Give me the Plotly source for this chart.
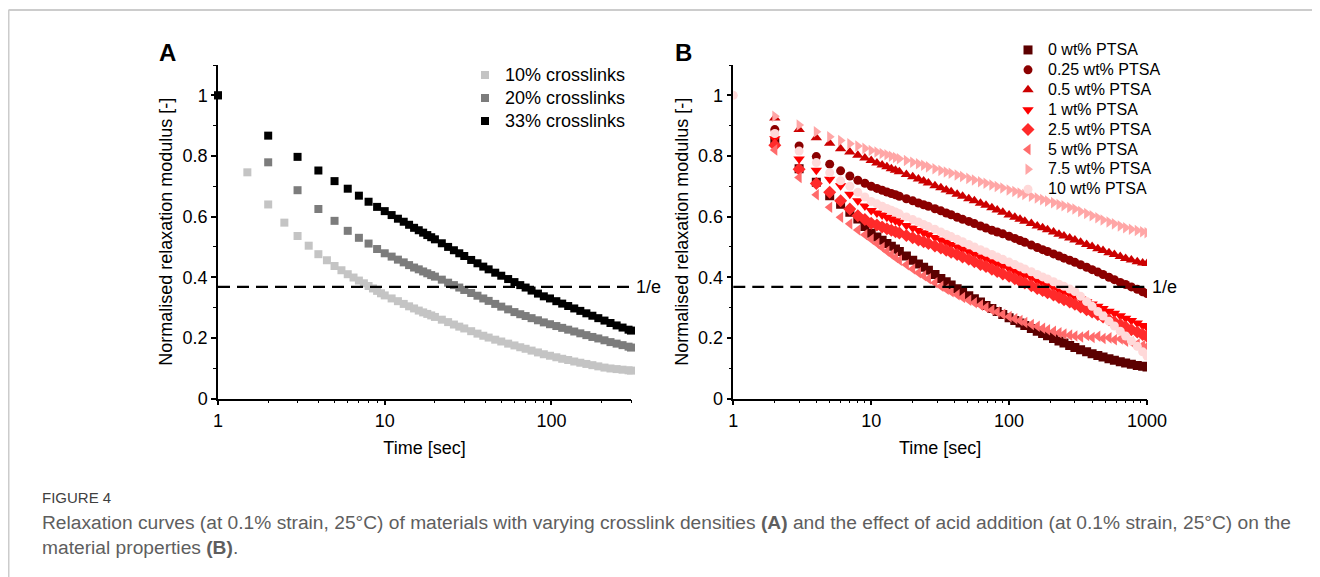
import math
import plotly.graph_objects as go

# ---------------- Panel A data ----------------
tA = [1, 2, 3, 4, 5, 6, 7, 8, 9, 10, 11, 12, 13, 14, 15, 16, 17, 18, 19, 20,
      22, 24, 26, 28, 30, 33, 36, 39, 42, 46, 50, 55, 60, 65, 70, 76, 83, 90, 98,
      107, 116, 126, 137, 149, 162, 176, 191, 208, 226, 246, 267, 290, 300]
tA10 = [1, 1.5, 2, 2.5, 3, 3.5, 4, 4.5, 5, 5.5, 6, 6.5, 7, 7.5, 8, 8.5, 9, 9.5, 10,
        11, 12, 13, 14, 15, 16, 17, 18, 19, 20,
        22, 24, 26, 28, 30, 33, 36, 39, 42, 46, 50, 55, 60, 65, 70, 76, 83, 90, 98,
        107, 116, 126, 137, 149, 162, 176, 191, 208, 226, 246, 267, 290, 300]

g10 = [1.000, .746, .640, .580, .536, .504, .476, .456, .437, .423, .410, .399, .389, .380,
       .371, .363, .355, .347, .340,
       .330, .321, .312, .304, .297, .290, .284, .279, .274, .269,
       .260, .252, .244, .237, .231, .222, .214, .207, .201, .194, .188, .181, .175, .169,
       .164, .158, .152, .146, .141, .136, .131, .127, .122, .118, .114, .110, .106, .102,
       .099, .097, .095, .093, .092]
g20 = [1.000, .779, .687, .625, .586, .553, .530, .511, .493, .479, .468, .458, .449, .440,
       .432, .426, .419, .413, .407, .402, .392, .382, .374, .366, .358, .348, .339, .330,
       .322, .312, .303, .294, .285, .278, .272, .265, .258, .251, .245, .239, .233, .227,
       .221, .215, .209, .203, .198, .192, .186, .181, .176, .171, .168]
g33 = [1.000, .867, .797, .752, .717, .692, .669, .649, .632, .618, .605, .593, .583, .573,
       .563, .555, .547, .539, .532, .525, .512, .500, .489, .479, .470, .457, .446, .435,
       .426, .415, .405, .394, .384, .374, .366, .356, .346, .337, .330, .321, .313, .305,
       .297, .289, .281, .273, .265, .257, .249, .241, .234, .227, .224]

namesA = ["10% crosslinks", "20% crosslinks", "33% crosslinks"]
colorsA = ["#c4c4c4", "#7c7c7c", "#000000"]

# ---------------- Panel B data ----------------
tB = [1, 2, 3, 4, 5, 6, 7, 8, 9, 10, 11, 12, 13, 14, 15, 16, 18, 20, 22, 24, 26,
      29, 32, 35, 38, 42, 46, 51, 56, 62, 68, 75, 82, 90, 100, 110, 120, 130,
      145, 160, 175, 190, 210, 230, 250, 275, 300, 330, 365, 400, 440, 480,
      530, 580, 640, 700, 770, 850, 930, 1000]

b0 = [None, .844, .758, .713, .669, .641, .614, .592, .567, .545,
      .533, .522, .511, .502, .493, .485, .470, .456, .444, .433, .423,
      .409, .396, .385, .374, .362, .351, .339, .329, .318, .307, .297, .287, .277,
      .266, .257, .249, .241, .231, .222, .214, .207, .198, .190, .183, .175, .168,
      .161, .154, .148, .142, .137, .131, .126, .121, .117, .113, .109, .106, .104]
b025 = [None, .887, .833, .798, .773, .751, .734, .720, .710, .700,
        .693, .687, .681, .676, .672, .667, .659, .652, .645, .639, .634,
        .626, .619, .612, .606, .598, .591, .584, .577, .569, .562, .555, .549, .543,
        .535, .528, .521, .515, .506, .498, .491, .485, .477, .470, .463, .456, .449,
        .441, .433, .425, .417, .409, .400, .392, .383, .376, .368, .360, .352, .346]
b05 = [None, .925, .887, .860, .842, .824, .813, .802, .793, .785,
       .777, .770, .764, .758, .753, .748, .739, .731, .724, .717, .711,
       .702, .695, .688, .682, .674, .667, .659, .652, .644, .637, .629, .622, .614,
       .605, .598, .591, .585, .577, .569, .563, .557, .549, .542, .536, .529, .523,
       .515, .508, .501, .494, .488, .481, .475, .468, .462, .457, .451, .447, .445]
b1 = [None, .857, .790, .753, .723, .702, .674, .652, .635, .620,
      .612, .605, .598, .592, .586, .581, .571, .562, .554, .547, .540,
      .531, .523, .515, .508, .500, .492, .484, .476, .467, .460, .451, .444, .436,
      .428, .420, .412, .406, .397, .388, .381, .374, .366, .358, .351, .343, .336,
      .328, .319, .312, .304, .297, .288, .281, .273, .265, .257, .249, .241, .235]
b25 = [None, .835, .756, .709, .680, .652, .625, .603, .590, .578,
       .572, .566, .560, .555, .550, .546, .538, .530, .523, .517, .511,
       .503, .496, .489, .482, .475, .467, .459, .451, .442, .435, .426, .419, .411,
       .403, .395, .387, .381, .372, .363, .356, .349, .341, .333, .326, .318, .311,
       .302, .293, .285, .277, .269, .260, .252, .244, .236, .227, .219, .211, .205]
b5 = [None, .820, .729, .672, .631, .598, .576, .556, .540, .525,
      .511, .498, .486, .475, .465, .456, .441, .427, .415, .405, .395,
      .382, .370, .360, .352, .342, .333, .324, .316, .308, .300, .292, .285, .278,
      .270, .263, .257, .251, .244, .238, .232, .227, .222, .217, .213, .209, .206,
      .203, .208, .201, .205, .198, .200, .194, .196, .189, .186, .180, .175, .172]
b75 = [None, .931, .902, .880, .863, .851, .840, .833, .825, .818,
       .813, .808, .804, .799, .795, .791, .785, .779, .774, .769, .764,
       .758, .752, .747, .743, .737, .732, .726, .721, .715, .710, .704, .699, .694,
       .688, .683, .678, .673, .667, .661, .656, .651, .646, .640, .636, .630, .625,
       .617, .610, .603, .596, .589, .582, .576, .569, .563, .558, .554, .550, .547]
b10 = [1.000, .874, .816, .778, .745, .718, .700, .680, .665, .650,
       .642, .634, .627, .621, .615, .609, .599, .590, .582, .574, .567,
       .558, .549, .541, .534, .525, .517, .508, .500, .491, .483, .475, .467, .459,
       .450, .442, .434, .427, .418, .409, .401, .394, .385, .377, .370, .361, .353,
       .337, .320, .304, .287, .272, .255, .239, .222, .206, .190, .172, .154, .140]

namesB = ["0 wt% PTSA", "0.25 wt% PTSA", "0.5 wt% PTSA", "1 wt% PTSA",
          "2.5 wt% PTSA", "5 wt% PTSA", "7.5 wt% PTSA", "10 wt% PTSA"]
colorsB = ["#5c0000", "#8b0000", "#cc0000", "#ff0000",
           "#ff2a2a", "#ff6b6b", "#ffa6a6", "#ffd9d9"]
symbolsB = ["square", "circle", "triangle-up", "triangle-down",
            "diamond", "triangle-left", "triangle-right", "circle"]
sizesB = [9, 9, 10, 10, 10, 10, 10, 9]

INV_E = 0.368

# page is drawn with an 8px body offset; work in page pixels
OFF = 8
W, H = 1320 - OFF, 577 - OFF
FONT = "Arial, Liberation Sans, sans-serif"


def px_x(p):
    return (p - OFF) / W


def px_y(p):
    return 1 - (p - OFF) / H


fig = go.Figure()

seriesA = [(tA10, g10), (tA, g20), (tA, g33)]
for (tx, vy), nm, col in zip(seriesA, namesA, colorsA):
    fig.add_trace(go.Scatter(
        x=tx, y=vy, name=f'<span style="font-size:18px">{nm}</span>', mode="markers",
        xaxis="x", yaxis="y", legend="legend", cliponaxis=False,
        marker=dict(symbol="square", size=8, color=col, line=dict(width=0))))

seriesB = [b0, b025, b05, b1, b25, b5, b75, b10]
for vy, nm, col, sym, sz in zip(seriesB, namesB, colorsB, symbolsB, sizesB):
    fig.add_trace(go.Scatter(
        x=tB, y=vy, name=f'<span style="font-size:16px">{nm}</span>', mode="markers",
        xaxis="x2", yaxis="y2", legend="legend2",
        marker=dict(symbol=sym, size=sz, color=col, line=dict(width=0))))

yax = dict(range=[0, 1.1], dtick=0.2, tick0=0, showline=True, linecolor="black",
           linewidth=1.5, ticks="outside", ticklen=5, tickwidth=1.5, tickcolor="black",
           showgrid=False, zeroline=False, automargin=False,
           tickfont=dict(family=FONT, size=18, color="black"),
           minor=dict(ticks="outside", ticklen=3, dtick=0.1, tickcolor="black", tickwidth=1.2,
                      showgrid=False),
           title=dict(text="Normalised relaxation modulus [-]", standoff=5,
                      font=dict(family=FONT, size=18, color="black")),
           domain=[px_y(398.5), px_y(65)])
xax = dict(type="log", showline=True, linecolor="black", linewidth=1.5,
           ticks="outside", ticklen=5, tickwidth=1.5, tickcolor="black",
           showgrid=False, zeroline=False, automargin=False,
           tickfont=dict(family=FONT, size=18, color="black"),
           minor=dict(ticks="outside", ticklen=3, dtick="D1", tickcolor="black", tickwidth=1.2,
                      showgrid=False),
           title=dict(text="Time [sec]", standoff=12,
                      font=dict(family=FONT, size=18, color="black")))

fig.update_layout(
    width=W, height=H, margin=dict(l=0, r=0, t=0, b=0),
    paper_bgcolor="white", plot_bgcolor="white",
    xaxis=dict(xax, domain=[px_x(218), px_x(631)], range=[0, math.log10(300)],
               tickvals=[1, 10, 100], ticktext=["1", "10", "100"], anchor="y"),
    yaxis=dict(yax, anchor="x"),
    xaxis2=dict(xax, domain=[px_x(733.3), px_x(1147)], range=[0, 3],
                tickvals=[1, 10, 100, 1000], ticktext=["1", "10", "100", "1000"], anchor="y2"),
    yaxis2=dict(yax, anchor="x2"),
    legend=dict(x=px_x(465), y=px_y(58.5), xanchor="left", yanchor="top",
                font=dict(family=FONT, size=15.4, color="black"), bgcolor="rgba(0,0,0,0)",
                itemwidth=30, tracegroupgap=0),
    legend2=dict(x=px_x(1008), y=px_y(35), xanchor="left", yanchor="top",
                 font=dict(family=FONT, size=13, color="black"), bgcolor="rgba(0,0,0,0)",
                 itemwidth=30, tracegroupgap=0),
    showlegend=True,
)

# 1/e reference lines
for xr, yr in [("x", "y"), ("x2", "y2")]:
    fig.add_shape(type="line", xref=f"{xr} domain", yref=yr, x0=0, x1=1, y0=INV_E, y1=INV_E,
                  line=dict(color="black", width=2.2, dash="12px,7px"), layer="above")
    fig.add_annotation(xref=f"{xr} domain", yref=yr, x=1, y=INV_E, text="1/e", showarrow=False,
                       xanchor="left", yanchor="middle", xshift=3,
                       font=dict(family=FONT, size=18, color="black"))

# panel letters
for lx, lt in [(167, "A"), (683, "B")]:
    fig.add_annotation(xref="paper", yref="paper", x=px_x(lx), y=px_y(52), text=f"<b>{lt}</b>",
                       showarrow=False, xanchor="center", yanchor="middle",
                       font=dict(family=FONT, size=24, color="black"))

# frame
fig.add_shape(type="line", xref="paper", yref="paper", x0=px_x(8.5), x1=1, y0=px_y(10), y1=px_y(10),
              line=dict(color="#cccccc", width=2))
fig.add_shape(type="line", xref="paper", yref="paper", x0=px_x(8.5), x1=px_x(8.5), y0=px_y(10), y1=0,
              line=dict(color="#cccccc", width=2))

# caption
CAP = "Liberation Sans, Arial, sans-serif"
fig.add_annotation(xref="paper", yref="paper", x=px_x(40), y=px_y(497), text="FIGURE 4",
                   showarrow=False, xanchor="left", yanchor="middle",
                   font=dict(family=CAP, size=15, color="#3f3f3f"))
fig.add_annotation(xref="paper", yref="paper", x=px_x(40), y=px_y(522),
                   text="Relaxation curves (at 0.1% strain, 25°C) of materials with varying crosslink "
                        "densities <b>(A)</b> and the effect of acid addition (at 0.1% strain, 25°C) on the",
                   showarrow=False, xanchor="left", yanchor="middle",
                   font=dict(family=CAP, size=19.2, color="#5e5e5e"))
fig.add_annotation(xref="paper", yref="paper", x=px_x(40), y=px_y(547),
                   text="material properties <b>(B)</b>.",
                   showarrow=False, xanchor="left", yanchor="middle",
                   font=dict(family=CAP, size=19.2, color="#5e5e5e"))

fig.write_html("out.html")
